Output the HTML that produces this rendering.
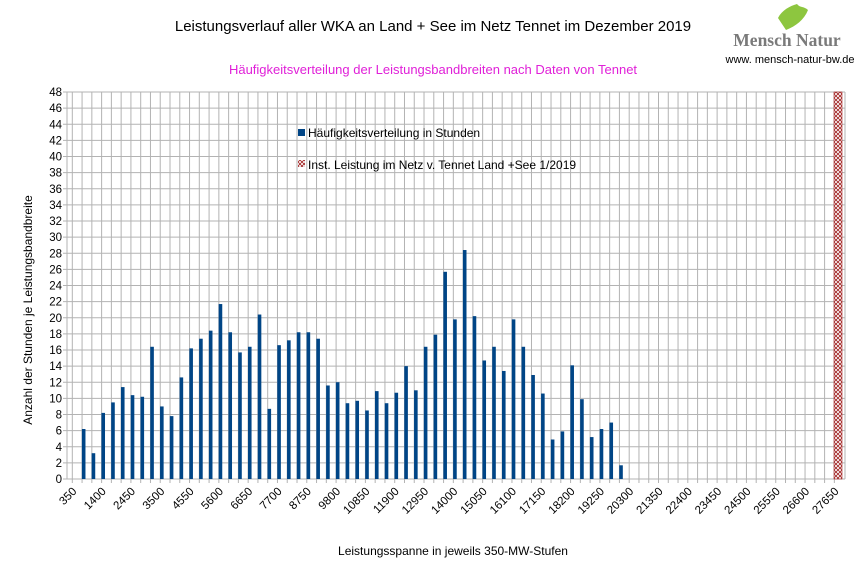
<!DOCTYPE html>
<html><head><meta charset="utf-8"><style>
body{margin:0;background:#fff}
svg{display:block;font-family:"Liberation Sans",sans-serif}
</style></head><body>
<svg width="866" height="578" viewBox="0 0 866 578" xmlns="http://www.w3.org/2000/svg">
<defs>
<pattern id="hx" width="4" height="4" patternUnits="userSpaceOnUse">
<rect width="4" height="4" fill="#fff"/>
<path d="M0 0L4 4M4 0L0 4" stroke="#a02020" stroke-width="0.8"/>
</pattern>
</defs>
<text x="433" y="31" font-size="15" text-anchor="middle" fill="#000">Leistungsverlauf aller WKA an Land + See im Netz Tennet im Dezember 2019</text>
<text x="433" y="74" font-size="13" text-anchor="middle" fill="#e020d8">Häufigkeitsverteilung der Leistungsbandbreiten nach Daten von Tennet</text>
<path d="M786 30 L778 18 C782 10 790 6 797 4 C800 8 804 6 808 10 C804 20 796 26 786 30 Z" fill="#8dc63f"/>
<text x="787" y="46" font-size="17.5" font-weight="bold" font-family="Liberation Serif,serif" text-anchor="middle" fill="#7a7a7a">Mensch Natur</text>
<text x="790" y="63" font-size="11" text-anchor="middle" fill="#000">www. mensch-natur-bw.de</text>
<g id="grid" stroke="#b3b3b3" stroke-width="1"></g>
<g id="bars"></g>
<rect x="834" y="92" width="8" height="387" fill="url(#hx)" stroke="#a02020" stroke-width="0.6"/>
<g id="lbl" font-size="11.5" fill="#000"></g>
<rect x="298" y="129" width="7" height="7" fill="#004586"/>
<text x="308" y="137" font-size="12">Häufigkeitsverteilung in Stunden</text>
<rect x="298" y="160" width="7" height="7" fill="url(#hx)"/>
<text x="308" y="169" font-size="12">Inst. Leistung im Netz v. Tennet  Land +See 1/2019</text>
<text transform="translate(32,310) rotate(-90)" font-size="12" text-anchor="middle">Anzahl der Stunden je Leistungsbandbreite</text>
<text x="453" y="555" font-size="12" text-anchor="middle">Leistungsspanne in jeweils 350-MW-Stufen</text>
</svg>
<script>
var NS="http://www.w3.org/2000/svg";
function el(p,t,a,txt){var e=document.createElementNS(NS,t);for(var k in a)e.setAttribute(k,a[k]);if(txt!=null)e.textContent=txt;document.getElementById(p).appendChild(e);}
var L=67,R=845,T=92,B=479,x0=72.3,w=9.77,u=(B-T)/48;
for(var v=0;v<=48;v+=2){var y=B-v*u;el("grid","line",{x1:L-4,x2:R,y1:y,y2:y});el("lbl","text",{x:62,y:y+4,"text-anchor":"end"},v);}
for(var i=0;i<79;i++){var x=x0+i*w;el("grid","line",{x1:x,x2:x,y1:T,y2:B+4});
if(i%3==0){el("lbl","text",{"text-anchor":"end",transform:"translate("+(x+5)+","+(B+13)+") rotate(-45)"},350+i*350);}}
el("grid","line",{x1:L,x2:L,y1:T,y2:B});el("grid","line",{x1:R,x2:R,y1:T,y2:B});
var d=[6.2,3.2,8.2,9.5,11.4,10.4,10.2,16.4,9.0,7.8,12.6,16.2,17.4,18.4,21.7,18.2,15.7,16.4,20.4,8.7,16.6,17.2,18.2,18.2,17.4,11.6,12.0,9.4,9.7,8.5,10.9,9.4,10.7,14.0,11.0,16.4,17.9,25.7,19.8,28.4,20.2,14.7,16.4,13.4,19.8,16.4,12.9,10.6,4.9,5.9,14.1,9.9,5.2,6.2,7.0,1.7];
for(var j=0;j<d.length;j++){var c=x0+(j+1)*w;el("bars","rect",{x:c-0.2,y:B-d[j]*u,width:3.6,height:d[j]*u,fill:"#004586"});}
</script>
</body></html>
